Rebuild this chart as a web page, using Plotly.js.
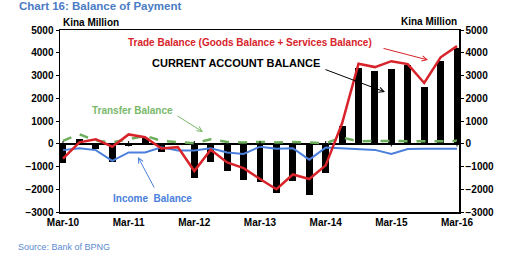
<!DOCTYPE html>
<html>
<head>
<meta charset="utf-8">
<script src="https://cdn.plot.ly/plotly-3.0.1.min.js"></script>
<style>
html,body{margin:0;padding:0;background:#fff;}
#chart{width:519px;height:255px;}
</style>
</head>
<body>
<div id="chart"></div>
<script>
// Quarterly, Mar-10 .. Mar-16 (25 quarters)
const quarters = ["Mar-10","Jun-10","Sep-10","Dec-10","Mar-11","Jun-11","Sep-11","Dec-11",
  "Mar-12","Jun-12","Sep-12","Dec-12","Mar-13","Jun-13","Sep-13","Dec-13",
  "Mar-14","Jun-14","Sep-14","Dec-14","Mar-15","Jun-15","Sep-15","Dec-15","Mar-16"];
const currentAccount = [-850, 200, -220, -800, -80, 250, -350, -30,
  -1500, -800, -1200, -1580, -1700, -2150, -1620, -2240,
  -1270, 790, 3320, 3210, 3280, 3440, 2500, 3620, 4200];
const tradeBalance = [-650, 60, 200, -130, 410, 290, -210, -150,
  -1200, -260, -820, -1070, -1550, -2000, -1350, -1550,
  -950, 900, 3520, 3370, 3630, 3500, 2670, 3800, 4290];
const incomeBalance = [-280, -200, -280, -750, -380, -380, -160, -300,
  -300, -200, -380, -450, -130, -220, -200, -700,
  -170, -200, -250, -270, -450, -230, -220, -230, -220];
const transferBalance = [130, 420, 130, 60, 200, 350, 130, 60,
  20, 200, 80, 60, 80, 60, 80, 60,
  20, 280, 100, 120, 110, 130, 120, 110, 130];
const yearTickLabels = ["Mar-10","Mar-11","Mar-12","Mar-13","Mar-14","Mar-15","Mar-16"];
const yTicks = [-3000,-2000,-1000,0,1000,2000,3000,4000,5000];

const idx = quarters.map((q,i)=>i);
const yearTickVals = yearTickLabels.map(l => quarters.indexOf(l));

const FONT = "Liberation Sans, Arial, sans-serif";
// plot area: x 60..459, y 30..212 (pixels); helpers convert pixel positions to paper fractions
const PL = 60, PR = 459, PT = 30, PB = 212;
const px = x => (x - PL) / (PR - PL);
const py = y => (PB - y) / (PB - PT);

const traces = [
  {type:'bar', x: idx, y: currentAccount, marker:{color:'#000'}, width:0.42, hoverinfo:'skip'},
  {type:'scatter', mode:'lines', x: idx, y: transferBalance, line:{color:'#6cae5c', width:2.5, dash:'dash'}, hoverinfo:'skip'},
  {type:'scatter', mode:'lines', x: idx, y: incomeBalance, line:{color:'#4a7fdc', width:2}, hoverinfo:'skip'},
  {type:'scatter', mode:'lines', x: idx, y: tradeBalance, line:{color:'#d8232a', width:2.5}, hoverinfo:'skip'},
  {type:'scatter', mode:'lines', x: idx, y: currentAccount, yaxis:'y2', line:{width:0, color:'rgba(0,0,0,0)'}, hoverinfo:'skip'}
];

const tickFont = {family:FONT, size:10, color:'#000', weight:'bold'};

const shapes = yearTickVals.map(v => ({
  type:'line', xref:'x', yref:'y', x0:v, x1:v, y0:-120, y1:120,
  line:{color:'#000', width:1}
}));

const layout = {
  width:519, height:255,
  margin:{l:PL, r:519-PR, t:PT, b:255-PB},
  paper_bgcolor:'#fff', plot_bgcolor:'#fff',
  showlegend:false,
  bargap:0,
  xaxis:{
    range:[-0.18, 24.12], tickvals: yearTickVals, ticktext: yearTickLabels,
    ticks:'', showgrid:false, zeroline:false, showline:true, mirror:true,
    linecolor:'#000', linewidth:1.5, tickfont:tickFont, ticklabelstandoff:0
  },
  yaxis:{
    range:[-3000,5000], tickvals:yTicks, ticks:'outside', ticklen:3, tickcolor:'#000',
    showgrid:false, zeroline:true, zerolinecolor:'#000', zerolinewidth:1.5,
    showline:true, linecolor:'#000', linewidth:1.5, tickfont:tickFont
  },
  yaxis2:{
    range:[-3000,5000], tickvals:yTicks, overlaying:'y', side:'right',
    ticks:'outside', ticklen:3, tickcolor:'#000', showgrid:false, zeroline:false,
    showline:true, linecolor:'#000', linewidth:1.5, tickfont:tickFont
  },
  shapes: shapes,
  annotations:[
    {xref:'paper', yref:'paper', x:px(17), y:py(6), xanchor:'left', yanchor:'middle', showarrow:false,
     text:'Chart 16: Balance of Payment', font:{family:FONT, size:11.5, color:'#4a7cc4', weight:'bold'}},
    {xref:'paper', yref:'paper', x:px(61), y:py(23), xanchor:'left', yanchor:'middle', showarrow:false,
     text:'Kina Million', font:{family:FONT, size:10, color:'#000', weight:'bold'}},
    {xref:'paper', yref:'paper', x:px(459), y:py(22), xanchor:'right', yanchor:'middle', showarrow:false,
     text:'Kina Million', font:{family:FONT, size:10, color:'#000', weight:'bold'}},
    {xref:'paper', yref:'paper', x:px(16), y:py(247), xanchor:'left', yanchor:'middle', showarrow:false,
     text:'Source: Bank of BPNG', font:{family:FONT, size:9, color:'#5a8ad0'}},
    // Trade balance label + arrow
    {xref:'paper', yref:'paper', x:px(250), y:py(43), xanchor:'center', yanchor:'middle', showarrow:false,
     text:'Trade Balance (Goods Balance + Services Balance)', font:{family:FONT, size:10, color:'#d8232a', weight:'bold'}},
    {xref:'paper', yref:'paper', x:px(428), y:py(60), ax:px(382), ay:py(48), axref:'paper', ayref:'paper',
     showarrow:true, arrowhead:5, arrowsize:1, arrowwidth:1, arrowcolor:'#d8232a', text:''},
    // Current account label + arrow
    {xref:'paper', yref:'paper', x:px(236), y:py(63), xanchor:'center', yanchor:'middle', showarrow:false,
     text:'CURRENT ACCOUNT BALANCE', font:{family:FONT, size:11, color:'#000', weight:'bold'}},
    {xref:'paper', yref:'paper', x:px(385), y:py(92), ax:px(324), ay:py(69), axref:'paper', ayref:'paper',
     showarrow:true, arrowhead:5, arrowsize:1, arrowwidth:1, arrowcolor:'#000', text:''},
    // Transfer balance label + arrow
    {xref:'paper', yref:'paper', x:px(132), y:py(110), xanchor:'center', yanchor:'middle', showarrow:false,
     text:'Transfer Balance', font:{family:FONT, size:10, color:'#7ab86a', weight:'bold'}},
    {xref:'paper', yref:'paper', x:px(203), y:py(132), ax:px(176), ay:py(115), axref:'paper', ayref:'paper',
     showarrow:true, arrowhead:5, arrowsize:1, arrowwidth:1, arrowcolor:'#7ab86a', text:''},
    // Income balance label + arrow
    {xref:'paper', yref:'paper', x:px(152), y:py(198), xanchor:'center', yanchor:'middle', showarrow:false,
     text:'Income&nbsp;&nbsp;Balance', font:{family:FONT, size:10, color:'#4a7fdc', weight:'bold'}},
    {xref:'paper', yref:'paper', x:px(138), y:py(157), ax:px(155), ay:py(189), axref:'paper', ayref:'paper',
     showarrow:true, arrowhead:5, arrowsize:1, arrowwidth:1, arrowcolor:'#4a7fdc', text:''}
  ]
};

Plotly.newPlot('chart', traces, layout, {staticPlot:true, displayModeBar:false});
</script>
</body>
</html>
